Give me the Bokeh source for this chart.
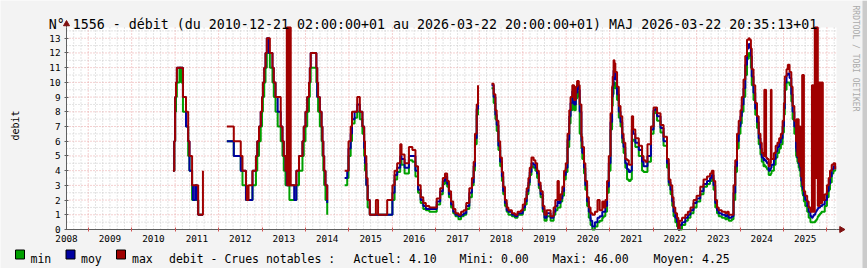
import numpy as np
from bokeh.plotting import figure
from bokeh.models import Range1d, FixedTicker, ColumnDataSource
from bokeh.core.properties import value
from bokeh.embed import file_html
from bokeh.resources import INLINE

# ---------------- data (decimal years ; m3/s) ----------------
dates = [
    2010.95, 2010.98, 2011.00, 2011.02, 2011.04, 2011.10, 2011.14, 2011.18, 2011.25, 2011.30, 2011.33, 2011.39, 2011.41, 2011.46, 2011.50, 2011.53, 2011.62, 2011.64, 2011.66,
    2012.19, 2012.35, 2012.51, 2012.55, 2012.63, 2012.65, 2012.69, 2012.78, 2012.86, 2012.89, 2012.93, 2012.97,
    2013.00, 2013.02, 2013.05, 2013.08, 2013.11, 2013.16, 2013.18, 2013.24, 2013.27, 2013.31, 2013.36, 2013.43, 2013.47, 2013.50, 2013.54,
    2013.57, 2013.58, 2013.59, 2013.60, 2013.61, 2013.62, 2013.63, 2013.64, 2013.65, 2013.66,
    2013.74, 2013.79, 2013.85, 2013.93, 2013.96,
    2014.00, 2014.04, 2014.08, 2014.10, 2014.12, 2014.25, 2014.27, 2014.29, 2014.33, 2014.37, 2014.39, 2014.41, 2014.43, 2014.46, 2014.50, 2014.75,
    2014.90, 2014.96, 2014.99, 2015.04, 2015.07, 2015.13, 2015.19, 2015.25, 2015.31, 2015.35, 2015.37, 2015.40, 2015.43, 2015.48, 2015.62, 2015.67, 2015.88,
    2016.00, 2016.05, 2016.11, 2016.18, 2016.21, 2016.28, 2016.38, 2016.46, 2016.53, 2016.59, 2016.65, 2016.71, 2016.77, 2016.85, 2016.93,
    2017.02, 2017.10, 2017.16, 2017.21, 2017.26, 2017.30, 2017.35, 2017.40, 2017.45, 2017.52, 2017.58, 2017.64, 2017.70, 2017.77, 2017.83, 2017.87, 2017.90, 2017.94, 2017.97, 2017.99,
    2018.28, 2018.33, 2018.37, 2018.40, 2018.44, 2018.48, 2018.52, 2018.55, 2018.59, 2018.63, 2018.67, 2018.75, 2018.82, 2018.88, 2018.96,
    2019.00, 2019.05, 2019.09, 2019.13, 2019.16, 2019.20, 2019.25, 2019.29, 2019.33, 2019.37, 2019.41, 2019.46, 2019.50, 2019.55, 2019.64, 2019.71, 2019.75, 2019.80, 2019.83, 2019.87, 2019.91, 2019.95, 2019.99,
    2020.03, 2020.07, 2020.10, 2020.14, 2020.18, 2020.22, 2020.25, 2020.29, 2020.31, 2020.35, 2020.37, 2020.41, 2020.44, 2020.48, 2020.52, 2020.56, 2020.60, 2020.66, 2020.72, 2020.77, 2020.83, 2020.86, 2020.90, 2020.94, 2020.98,
    2021.02, 2021.055, 2021.07, 2021.09, 2021.11, 2021.13, 2021.17, 2021.21, 2021.25, 2021.29, 2021.32, 2021.36, 2021.40, 2021.44, 2021.48, 2021.51, 2021.54, 2021.59, 2021.67, 2021.745, 2021.78, 2021.82, 2021.87, 2021.95,
    2022.01, 2022.05, 2022.09, 2022.17, 2022.24, 2022.32, 2022.36, 2022.40, 2022.44, 2022.47, 2022.51, 2022.55, 2022.58, 2022.61, 2022.665, 2022.74, 2022.80, 2022.86, 2022.93,
    2023.00, 2023.085, 2023.16, 2023.24, 2023.31, 2023.35, 2023.39, 2023.43, 2023.47, 2023.51, 2023.58, 2023.66, 2023.70, 2023.74, 2023.81, 2023.85, 2023.89, 2023.93, 2023.97,
    2024.01, 2024.04, 2024.08, 2024.12, 2024.16, 2024.20, 2024.22, 2024.25, 2024.27, 2024.31, 2024.35, 2024.39, 2024.43, 2024.47, 2024.50, 2024.54, 2024.56, 2024.57, 2024.59, 2024.60, 2024.62, 2024.66, 2024.69, 2024.71, 2024.725, 2024.78, 2024.82, 2024.86, 2024.90, 2024.94, 2024.98,
    2025.01, 2025.03, 2025.07, 2025.10, 2025.14, 2025.18, 2025.21, 2025.25, 2025.29,
    2025.30, 2025.32, 2025.33, 2025.35, 2025.37, 2025.39, 2025.41, 2025.43, 2025.44, 2025.45, 2025.47,
    2025.50, 2025.545, 2025.58, 2025.62,
    2025.655, 2025.665, 2025.675, 2025.685, 2025.695, 2025.705,
    2025.72, 2025.73, 2025.74, 2025.75, 2025.76, 2025.77, 2025.78, 2025.79,
    2025.80, 2025.815, 2025.83, 2025.845, 2025.86, 2025.875, 2025.89, 2025.905,
    2025.95, 2026.00, 2026.04, 2026.07, 2026.11, 2026.15, 2026.19,
]

q_max = [
    4, 6, 9, 10, 11, 11, 11, 9, 8, 6, 5, 3, 3, 3, 3, 1, 1, 4, None,
    7, 6, 5, 4, 3, 2, 3, 4, 5, 6, 7, 8,
    9, 10, 11, 12, 13, 13, 12, 11, 10, 9, 9, 7, 6, 5, 4,
    46, 3, 46, 3, 46, 3, 46, 3, 46, 3,
    3, 4, 5, 6, 7,
    8, 9, 10, 11, 12, 11, 10, 9, 8, 7, 6, 5, 4, 3, 2, None,
    4, 4, 6, 7, 8, 8, 9, 8, 7, 6, 5, 3.5, 2, 1, 2, 1, 2,
    3, 4, 4.5, 5.8, 5.1, 4.5, 5.6, 5.4, 4.3, 3.0, 2.2, 1.8, 1.6, 1.5, 1.5,
    2.1, 2.8, 3.5, 3.8, 3.3, 2.6, 1.9, 1.4, 1.1, 1.0, 1.2, 1.3, 1.8, 2.8, 3.5, 4.6, 6.5, 8.5, 9.8, None,
    9.9, 9.2, 8.1, 7.4, 6.0, 4.9, 3.9, 2.9, 2.0, 1.5, 1.3, 1.1, 1.0, 1.2, 1.3,
    1.7, 2.1, 2.8, 3.5, 4.2, 4.9, 4.7, 4.5, 4.0, 3.2, 2.6, 1.6, 1.0, 1.3, 0.9, 1.5, 2.0, 3.3, 2.0, 2.4, 2.9, 4.0, 4.5,
    6.5, 8.1, 9.0, 9.8, 8.8, 9.7, 10.1, 9.8, 8.5, 6.3, 5.6, 4.5, 3.3, 2.2, 1.5, 1.1, 1.0, 1.2, 2.0, 1.3, 1.9, 1.5, 2.0, 3.3, 5.0,
    7.9, 9.7, 10.4, 11.5, 11.3, 10.7, 9.7, 8.4, 7.7, 6.5, 5.9, 4.8, 4.7, 4.4, 4.4, 7.7, 6.8, 6.2, 5.7, 5.0, 4.7, 4.6, 5.8, 7.0,
    8.3, 8.3, 7.9, 7.1, 6.3, 4.8, 3.4, 3.0, 2.2, 1.5, 1.1, 0.8, 0.0, 0.6, 0.8, 1.0, 1.2, 1.5, 2.0,
    2.3, 2.9, 3.4, 3.6, 3.8, 4.0, 3.3, 2.0, 1.5, 1.3, 1.2, 1.1, 1.2, 1.0, 1.0, 3.0, 4.7, 6.5, 7.4,
    8.1, 9.0, 10.2, 11.8, 12.9, 13.0, 12.9, 12.3, 10.9, 9.8, 8.6, 7.7, 6.5, 5.9, 5.2, 5.0, 9.5, 5.0, 9.5, 4.9, 4.8, 4.3, 4.5, 9.5, 4.8, 5.2, 5.7, 5.9, 6.2, 6.5, 7.4,
    8.6, 10.4, 10.9, 11.2, 10.7, 9.7, 8.4, 7.4, 6.0,
    7.5, 5.0, 7.5, 4.6, 7.0, 4.3, 3.6, 10.5, 3.0, 10.5, 2.6,
    2.3, 1.9, 1.5, 1.2,
    9.8, 1.2, 9.8, 1.2, 9.8, 1.2,
    46, 3.5, 46, 3.5, 46, 3.5, 46, 1.6,
    10.0, 1.6, 10.0, 1.8, 10.0, 1.8, 10.0, 2.0,
    2.4, 3.0, 3.5, 4.0, 4.4, 4.5, 4.1,
]

q_moy = [
    4, 6, 9, 10, 11, 11, 11, 9, 7, 6, 4, 3, 2, 3, 2, 1, 1, 1, None,
    6, 5, 4, 4, 2, 2, 2, 4, 5, 6, 7, 8,
    9, 10, 11, 12, 13, 12, 12, 11, 10, 9, 8, 7, 6, 5, 4,
    3, 3, 3, 3, 3, 3, 3, 3, 3, 3,
    2, 4, 5, 6, 7,
    8, 9, 10, 11, 12, 11, 9, 9, 8, 7, 6, 5, 4, 3, 1.8, None,
    3.5, 4, 5.5, 6.5, 7.5, 8, 8.5, 8, 7, 5.5, 4.5, 3, 2, 1, 1, 1, 1,
    2.5, 3.7, 4.2, 5.0, 4.8, 4.2, 5.0, 5.0, 4.0, 2.7, 2.0, 1.6, 1.4, 1.4, 1.4,
    1.9, 2.6, 3.3, 3.6, 3.1, 2.4, 1.7, 1.2, 1.0, 0.9, 1.0, 1.1, 1.6, 2.5, 3.2, 4.3, 6.2, 8.2, 9.6, None,
    9.8, 9.0, 7.8, 7.1, 5.7, 4.6, 3.6, 2.6, 1.8, 1.3, 1.2, 1.0, 0.9, 1.1, 1.1,
    1.5, 1.9, 2.6, 3.2, 3.9, 4.5, 4.4, 4.2, 3.8, 3.0, 2.4, 1.4, 0.8, 1.1, 0.8, 1.2, 1.6, 1.9, 1.8, 2.1, 2.6, 3.7, 4.2,
    6.1, 7.7, 8.6, 9.4, 8.5, 9.3, 9.8, 9.5, 8.0, 6.0, 5.2, 4.2, 3.0, 1.9, 1.2, 0.6, 0.2, 0.5, 0.8, 0.9, 1.2, 1.2, 1.6, 2.9, 4.5,
    7.3, 9.0, 9.8, 10.8, 10.6, 10.2, 9.2, 8.0, 7.3, 6.2, 5.6, 4.5, 4.1, 3.9, 4.0, 6.8, 6.5, 5.9, 5.4, 4.6, 4.3, 4.3, 5.0, 6.8,
    8.1, 8.2, 7.7, 6.9, 6.0, 4.5, 3.2, 2.7, 1.9, 1.2, 0.8, 0.5, 0.0, 0.3, 0.5, 0.8, 1.0, 1.3, 1.8,
    2.1, 2.6, 3.1, 3.3, 3.5, 3.7, 3.0, 1.8, 1.3, 1.1, 1.0, 0.9, 1.0, 0.8, 0.9, 2.5, 4.3, 6.0, 7.0,
    7.7, 8.5, 9.6, 11.2, 12.3, 12.6, 12.4, 11.8, 10.4, 9.3, 8.2, 7.3, 6.2, 5.5, 4.9, 4.7, 4.8, 4.7, 4.7, 4.6, 4.5, 4.0, 4.1, 4.2, 4.4, 4.8, 5.3, 5.6, 5.9, 6.2, 7.0,
    8.2, 10.0, 10.5, 10.6, 10.3, 9.2, 8.0, 7.0, 5.5,
    5.3, 4.9, 4.9, 4.5, 4.3, 4.0, 3.3, 3.0, 2.8, 2.7, 2.3,
    2.0, 1.6, 1.2, 0.9,
    0.8, 0.8, 0.9, 0.9, 1.0, 1.0,
    1.0, 1.1, 1.2, 1.2, 1.3, 1.3, 1.4, 1.4,
    1.5, 1.5, 1.5, 1.6, 1.6, 1.6, 1.7, 1.7,
    2.0, 2.6, 3.1, 3.6, 4.1, 4.3, 4.1,
]

q_min = [
    4, 6, 8, 9, 10, 11, 10, 8, 7, 5, 4, 2, 2, 2, 2, 1, 1, 1, None,
    6, 5, 4, 3, 2, 2, 2, 3, 4, 5, 6, 7,
    8, 9, 10, 11, 12, 12, 11, 10, 9, 8, 7, 6, 5, 4, 3,
    3, 3, 3, 3, 3, 3, 2, 2, 2, 2,
    2, 3, 4, 5, 6,
    7, 8, 9, 10, 11, 10, 9, 8, 7, 6, 5, 4, 3, 2, 1, None,
    3, 3.5, 5, 6, 7.2, 7.6, 8, 7.5, 6.5, 5, 4, 3, 1.5, 1, 1, 1, 1,
    2, 3.4, 3.9, 4.7, 4.4, 3.8, 4.7, 4.6, 3.6, 2.5, 1.8, 1.4, 1.3, 1.2, 1.2,
    1.7, 2.4, 3.1, 3.4, 2.9, 2.2, 1.5, 1.1, 0.9, 0.7, 0.9, 1.0, 1.4, 2.2, 3.0, 4.0, 5.8, 7.8, 9.3, None,
    9.6, 8.6, 7.5, 6.7, 5.4, 4.3, 3.3, 2.4, 1.6, 1.2, 1.0, 0.9, 0.8, 1.0, 1.0,
    1.3, 1.7, 2.4, 3.0, 3.7, 4.3, 4.2, 4.0, 3.5, 2.8, 2.2, 1.2, 0.6, 0.9, 0.6, 1.0, 1.3, 1.5, 1.5, 1.9, 2.3, 3.4, 3.9,
    5.6, 7.2, 8.1, 9.0, 8.1, 8.9, 9.4, 9.0, 6.5, 5.5, 4.8, 3.8, 2.7, 1.6, 0.8, 0.3, 0.0, 0.2, 0.5, 0.6, 0.8, 0.9, 1.2, 2.5, 4.0,
    6.8, 8.4, 9.2, 10.0, 10.0, 9.6, 8.8, 7.6, 7.0, 5.9, 5.2, 4.2, 3.4, 3.3, 3.4, 6.0, 6.1, 5.6, 5.0, 4.0, 3.9, 3.9, 4.6, 6.5,
    7.9, 8.0, 7.4, 6.6, 5.7, 4.2, 3.0, 2.4, 1.6, 0.9, 0.5, 0.2, 0.0, 0.0, 0.3, 0.6, 0.8, 1.1, 1.5,
    1.9, 2.4, 2.9, 3.1, 3.3, 3.5, 2.7, 1.5, 1.1, 0.9, 0.8, 0.7, 0.8, 0.6, 0.7, 2.0, 3.9, 5.5, 6.5,
    7.2, 8.0, 9.0, 10.5, 11.6, 12.0, 11.8, 11.0, 9.8, 8.8, 7.8, 6.9, 5.8, 5.1, 4.6, 4.3, 4.4, 4.3, 4.3, 4.2, 4.1, 3.7, 3.7, 3.8, 4.0, 4.4, 4.9, 5.2, 5.5, 5.8, 6.6,
    7.8, 9.5, 10.0, 10.0, 9.8, 8.7, 7.5, 6.5, 5.0,
    4.9, 4.6, 4.5, 4.2, 4.0, 3.6, 2.9, 2.6, 2.4, 2.3, 1.9,
    1.6, 1.2, 0.8, 0.5,
    0.5, 0.5, 0.5, 0.5, 0.5, 0.5,
    0.5, 0.6, 0.6, 0.6, 0.7, 0.7, 0.8, 0.9,
    0.9, 1.0, 1.0, 1.1, 1.1, 1.2, 1.2, 1.2,
    1.6, 2.2, 2.7, 3.2, 3.8, 4.0, 4.1,
]

assert len(dates) == len(q_max) == len(q_moy) == len(q_min)

years = list(range(2008, 2026))
year_labels = [str(y) for y in years]
y_ticks = list(range(0, 14))

series_names = ["min", "moy", "max"]
series_colors = ["#00A000", "#0000A0", "#A00000"]
stats_labels = ["debit - Crues notables :", "Actuel: 4.10", "Mini: 0.00", "Maxi: 46.00", "Moyen: 4.25"]
title_text = "N° 1556 - débit (du 2010-12-21 02:00:00+01 au 2026-03-22 20:00:00+01) MAJ 2026-03-22 20:35:13+01"
unit_label = "debit"
watermark = "RRDTOOL / TOBI OETIKER"

# ---------------- geometry (canvas pixels) ----------------
W, H = 867, 268
PL, PR, PT, PB = 66, 836, 27, 229          # plot area in canvas pixels
X0, X1 = 2008.5, 2026.22                   # time span of the plot area
Y0, Y1 = 0.0, 13.73                        # value span of the plot area
KX = (X1 - X0) / (PR - PL)
KY = (Y1 - Y0) / (PB - PT)
XL, XR = X0 - PL * KX, X1 + (W - PR) * KX
YB, YT = Y0 - (H - PB) * KY, Y1 + PT * KY
MONO = "DejaVu Sans Mono"


def sx(px):
    return XL + px * KX


def sy(py):
    return YT - py * KY


p = figure(width=W, height=H, x_range=Range1d(XL, XR), y_range=Range1d(YB, YT),
           output_backend="svg", toolbar_location=None, title=None,
           min_border=0, min_border_left=0, min_border_right=0, min_border_top=0, min_border_bottom=0,
           background_fill_color="#f3f3f3", border_fill_color="#f3f3f3",
           outline_line_color=None)
p.xgrid.visible = False
p.ygrid.visible = False

# right-hand shaded border of the image
p.quad(left=[sx(862)], right=[sx(868)], bottom=[YB], top=[YT], fill_color="#cbcbcb", line_color=None)

# plot canvas
p.quad(left=[X0], right=[X1], bottom=[Y0], top=[Y1], fill_color="#ffffff", line_color=None)

# grid
bounds = [y + 1.0 for y in years]
minor_x = [y + m / 12.0 for y in range(2008, 2027) for m in (2, 4, 6, 8, 10) if X0 < y + m / 12.0 < X1]
minor_y = [k + 0.5 for k in range(0, 14)]
GRID_MINOR = "#c8c8c8"
GRID_MAJOR = "#e8a0a0"
p.segment(x0=minor_x, x1=minor_x, y0=[Y0] * len(minor_x), y1=[Y1] * len(minor_x),
          line_color=GRID_MINOR, line_dash="1 2", line_width=1)
p.segment(x0=[X0] * len(minor_y), x1=[X1] * len(minor_y), y0=minor_y, y1=minor_y,
          line_color=GRID_MINOR, line_dash="1 2", line_width=1)
p.segment(x0=bounds, x1=bounds, y0=[Y0] * len(bounds), y1=[Y1] * len(bounds),
          line_color=GRID_MAJOR, line_dash="1 2", line_width=1)
p.segment(x0=[X0] * 13, x1=[X1] * 13, y0=y_ticks[1:], y1=y_ticks[1:],
          line_color=GRID_MAJOR, line_dash="1 2", line_width=1)

# axes (library axes, placed on the plot-area edges)
xa = p.xaxis[0]
xa.fixed_location = Y0
xa.bounds = (X0, X1)
xa.ticker = FixedTicker(ticks=[y + 0.5 for y in years], minor_ticks=bounds)
xa.major_label_overrides = {y + 0.5: lab for y, lab in zip(years, year_labels)}
xa.major_tick_in = 0
xa.major_tick_out = 0
xa.minor_tick_in = 2
xa.minor_tick_out = 2
xa.minor_tick_line_color = "#d05050"
xa.axis_line_color = "#606060"
xa.major_label_text_font = MONO
xa.major_label_text_font_size = "9.33px"
xa.major_label_text_color = "#000000"
xa.major_label_standoff = 3

ya = p.yaxis[0]
ya.fixed_location = X0
ya.bounds = (Y0, Y1)
ya.ticker = FixedTicker(ticks=y_ticks, minor_ticks=[])
ya.major_tick_in = 2
ya.major_tick_out = 2
ya.major_tick_line_color = "#606060"
ya.minor_tick_line_color = None
ya.axis_line_color = "#606060"
ya.major_label_text_font = MONO
ya.major_label_text_font_size = "9.33px"
ya.major_label_text_color = "#000000"
ya.major_label_standoff = 4

# axis extensions and arrow heads
AX_COL = "#606060"
HEAD_COL = "#7f1010"
p.segment(x0=[X0, X1], x1=[X0, sx(840)], y0=[Y1, Y0], y1=[sy(24), Y0], line_color=AX_COL, line_width=1)
p.scatter(x=[X0], y=[sy(23.5)], marker="triangle", size=6, fill_color=HEAD_COL, line_color=HEAD_COL)
p.scatter(x=[sx(841)], y=[Y0], marker="triangle", angle=-np.pi / 2, size=6,
          fill_color=HEAD_COL, line_color=HEAD_COL)

# data (clipped to the plot area as the original graph does)
src = ColumnDataSource(dict(t=np.array(dates, dtype=float),
                            qmin=np.minimum(np.array(q_min, dtype=float), Y1),
                            qmoy=np.minimum(np.array(q_moy, dtype=float), Y1),
                            qmax=np.minimum(np.array(q_max, dtype=float), Y1)))
for col, color in zip(["qmin", "qmoy", "qmax"], series_colors):
    p.step(x="t", y=col, source=src, mode="after", line_color=color, line_width=2)

# texts
p.text(x=[sx(432.5)], y=[sy(24)], text=[title_text], text_align="center", text_baseline="alphabetic",
       text_font=value(MONO), text_font_size="13.3px", text_color="#000000")
p.text(x=[sx(14.5)], y=[sy(125)], text=[unit_label], angle=np.pi / 2, text_align="center",
       text_baseline="alphabetic", text_font=value(MONO), text_font_size="10px", text_color="#000000")
p.text(x=[sx(855)], y=[sy(5)], text=[watermark], angle=-np.pi / 2, text_align="left",
       text_baseline="alphabetic", text_font=value(MONO), text_font_size="8px", text_color="#aaaaaa")

# legend
box_left = [15, 65.5, 116]
name_left = [30, 80.5, 131.5]
p.quad(left=[sx(b) for b in box_left], right=[sx(b + 9) for b in box_left],
       top=[sy(249.5)] * 3, bottom=[sy(258.5)] * 3,
       fill_color=series_colors, line_color="#000000", line_width=1)
p.text(x=[sx(v) for v in name_left], y=[sy(258)] * 3, text=series_names, text_align="left",
       text_baseline="alphabetic", text_font=value(MONO), text_font_size="11.5px", text_color="#000000")
stats_left = [168.5, 353, 459, 552, 653]
p.text(x=[sx(v) for v in stats_left], y=[sy(258)] * len(stats_left), text=stats_labels,
       text_align="left", text_baseline="alphabetic", text_font=value(MONO),
       text_font_size="11.5px", text_color="#000000")

open("out.html", "w").write(file_html(p, INLINE))
